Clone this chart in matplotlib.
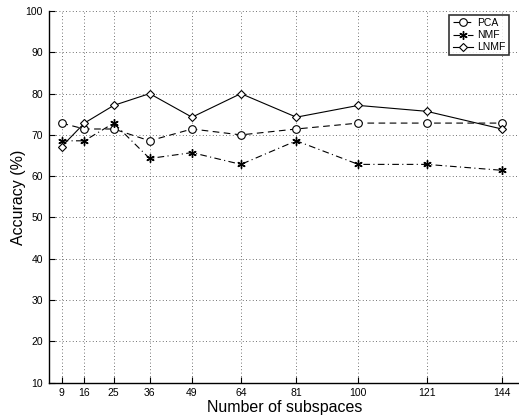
import matplotlib
matplotlib.use("Agg")
import matplotlib.pyplot as plt

subspaces = [9, 16, 25, 36, 49, 64, 81, 100, 121, 144]
pca = [72.86, 71.43, 71.43, 68.57, 71.43, 70.00, 71.43, 72.86, 72.86, 72.86]
nmf = [68.57, 68.57, 72.86, 64.29, 65.71, 62.86, 68.57, 62.86, 62.86, 61.43]
lnmf = [67.14, 72.86, 77.14, 80.00, 74.29, 80.00, 74.29, 77.14, 75.71, 71.43]
yticks = [10, 20, 30, 40, 50, 60, 70, 80, 90, 100]

plt.rcParams['font.family'] = ['Liberation Sans', 'DejaVu Sans']

fig = plt.figure(figsize=(5.19, 4.17), dpi=100)
ax = fig.add_axes([48.5/519, 0.0823, 1.0 - 48.5/519 + 0.002, 0.9736 - 0.0823])

lw = 0.8
ax.plot(subspaces, pca, color='black', linestyle=(0, (6, 4)), linewidth=lw, marker='o',
        markersize=5.5, markerfacecolor='white', markeredgecolor='black', markeredgewidth=0.8, label='PCA')
ax.plot(subspaces, nmf, color='black', linestyle=(0, (6, 3, 1, 3)), linewidth=lw, marker=(6, 2, 0),
        markersize=6, markerfacecolor='black', markeredgecolor='black', markeredgewidth=1.0, label='NMF')
ax.plot(subspaces, lnmf, color='black', linestyle='-', linewidth=lw, marker='D',
        markersize=4.5, markerfacecolor='white', markeredgecolor='black', markeredgewidth=0.8, label='LNMF')

ax.set_xlim(5, 149.6)
ax.set_ylim(10, 100)
ax.set_xticks(subspaces)
ax.set_xticklabels([str(s) for s in subspaces])
ax.set_yticks(yticks)
ax.tick_params(direction='in', length=4, labelsize=7.5, width=0.8, pad=4)
ax.grid(True, linestyle=(0, (1, 3)), color='#444444', linewidth=0.6)
ax.spines['top'].set_visible(False)
ax.spines['right'].set_visible(False)
ax.spines['left'].set_linewidth(1.0)
ax.spines['bottom'].set_linewidth(1.0)

ax.set_xlabel('Number of subspaces', fontsize=11.5, labelpad=1)
ax.set_ylabel('Accuracy (%)', fontsize=11.5, labelpad=0)

leg = ax.legend(loc='upper right', bbox_to_anchor=(509/519, 1 - 15/417), bbox_transform=fig.transFigure,
                fontsize=7.5, frameon=True, fancybox=False, handlelength=2.0, handletextpad=0.4,
                borderpad=0.3, labelspacing=0.2, borderaxespad=0)
leg.get_frame().set_edgecolor('black')
leg.get_frame().set_linewidth(1.2)

fig.savefig('out.png', dpi=100)
